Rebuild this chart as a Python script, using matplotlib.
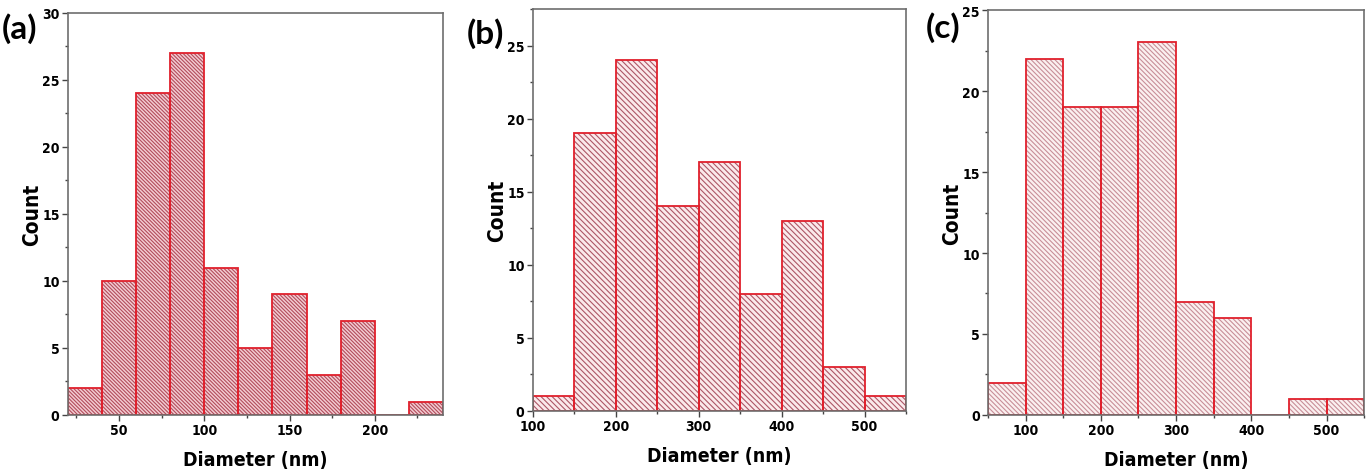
import numpy as np
import matplotlib
matplotlib.use('Agg')
import matplotlib.pyplot as plt
from matplotlib.ticker import MultipleLocator

# bin edges (left) and counts for each panel
edges_a = [20, 40, 60, 80, 100, 120, 140, 160, 180, 200, 220]
counts_a = [2, 10, 24, 27, 11, 5, 9, 3, 7, 0, 1]

edges_b = [100, 150, 200, 250, 300, 350, 400, 450, 500]
counts_b = [1, 19, 24, 14, 17, 8, 13, 3, 1]

edges_c = [50, 100, 150, 200, 250, 300, 350, 400, 450, 500]
counts_c = [2, 22, 19, 19, 23, 7, 6, 0, 1, 1]

plt.rcParams['hatch.linewidth'] = 0.8
narrow = ['DejaVu Sans']

fig = plt.figure(figsize=(13.7, 4.77), dpi=100)

panels = [
    dict(edges=edges_a, counts=counts_a, w=20, pos=[0.0496, 0.1279, 0.2737, 0.8428],
         xlim=(20, 240), ylim=(0, 30), xmaj=50, xmin=25, ymaj=5,
         face='#f3ccd2', hcol='#b24c5b', hatch='\\' * 9, label='(a)', lx=0.001, ly=0.972),
    dict(edges=edges_b, counts=counts_b, w=50, pos=[0.389, 0.1363, 0.2723, 0.8428],
         xlim=(100, 550), ylim=(0, 27.5), xmaj=100, xmin=50, ymaj=5,
         face='#fbe9eb', hcol='#ad5666', hatch='\\' * 6, label='(b)', lx=0.341, ly=0.962),
    dict(edges=edges_c, counts=counts_c, w=50, pos=[0.7212, 0.1279, 0.2745, 0.849],
         xlim=(50, 550), ylim=(0, 25), xmaj=100, xmin=50, ymaj=5,
         face='#fbf0f0', hcol='#c88e98', hatch='\\' * 7, label='(c)', lx=0.676, ly=0.975),
]

for p in panels:
    ax = fig.add_axes(p['pos'])
    ax.bar(p['edges'], p['counts'], width=p['w'], align='edge',
           color=p['face'], edgecolor=p['hcol'], hatch=p['hatch'], linewidth=0)
    ax.bar(p['edges'], p['counts'], width=p['w'], align='edge',
           fill=False, edgecolor='#e0202c', linewidth=1.3)
    ax.set_xlim(*p['xlim'])
    ax.set_ylim(*p['ylim'])
    ax.xaxis.set_major_locator(MultipleLocator(p['xmaj']))
    ax.xaxis.set_minor_locator(MultipleLocator(p['xmin']))
    ax.yaxis.set_major_locator(MultipleLocator(p['ymaj']))
    ax.yaxis.set_minor_locator(MultipleLocator(p['ymaj'] / 2))
    for s in ax.spines.values():
        s.set_color('#6e6e6e')
        s.set_linewidth(1.2)
    ax.tick_params(which='both', direction='out', color='#444444', width=1)
    ax.tick_params(which='major', length=4, labelsize=10, pad=2)
    ax.tick_params(which='minor', length=2.5)
    for t in ax.get_xticklabels() + ax.get_yticklabels():
        t.set_family(narrow)
        t.set_fontweight('bold')
        t.set_fontstretch('condensed')
    ax.set_xlabel('Diameter (nm)', family=narrow, fontweight='bold', fontstretch='condensed',
                  fontsize=14, labelpad=9)
    ax.set_ylabel('Count', family=narrow, fontweight='bold', fontstretch='condensed',
                  fontsize=15, labelpad=0)
    fig.text(p['lx'], p['ly'], p['label'], fontsize=24, fontweight='bold',
             family=['Lato', 'DejaVu Sans'], va='top', ha='left')

fig.savefig('out.png', dpi=100)
